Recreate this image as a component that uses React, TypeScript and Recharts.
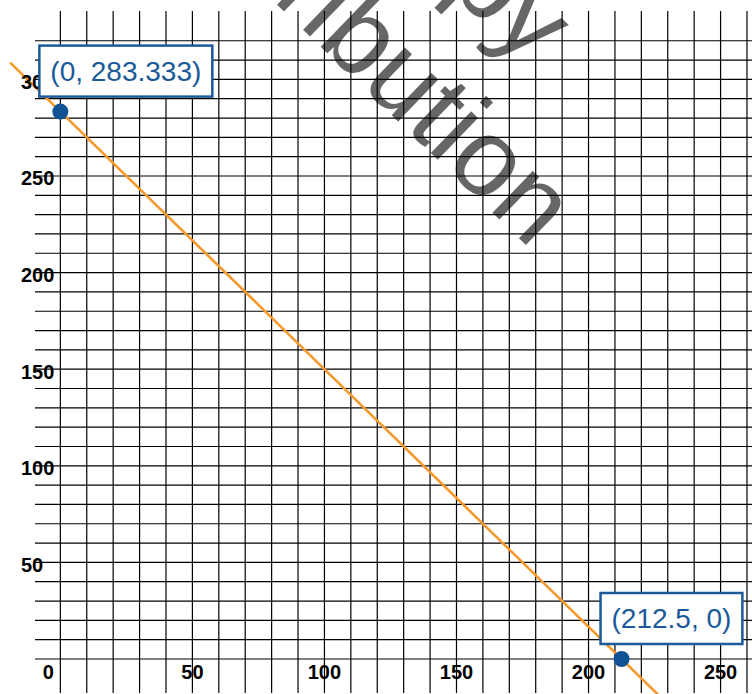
import React from "react"
import { ScatterChart, Scatter, CartesianGrid, XAxis, YAxis, ReferenceLine } from "recharts"

// axis labels (every 50) and the graph-paper lines (every 10)
const xTicks = [0, 50, 100, 150, 200, 250]
const yTicks = [50, 100, 150, 200, 250, 300]
const gridX = [0, 10, 20, 30, 40, 50, 60, 70, 80, 90, 100, 110, 120, 130, 140, 150, 160, 170, 180, 190, 200, 210, 220, 230, 240, 250, 260]
const gridY = [0, 10, 20, 30, 40, 50, 60, 70, 80, 90, 100, 110, 120, 130, 140, 150, 160, 170, 180, 190, 200, 210, 220, 230, 240, 250, 260, 270, 280, 290, 300, 310, 320]

// the two intercepts that are marked
const intercepts = [
  { x: 0, y: 283.333 },
  { x: 212.5, y: 0 },
]

// where the orange line runs off the paper
const lineEnds = [
  { x: -19, y: 308.667 },
  { x: 227, y: -19.333 },
]

const watermark = ["copy", "distribution"]

const W = 752
const H = 694
const X_DOMAIN = [-9.6, 261.9]
const Y_DOMAIN = [-17.6, 335.4]
const BLUE = "#1b5a98"
const DOT = "#0f5394"
const ORANGE = "#f7982a"
const FONT = "'Liberation Sans', Arial, Helvetica, sans-serif"

// rough Arial advance widths, used to size the label boxes
const charW: Record<string, number> = { "(": 0.333, ")": 0.333, ",": 0.278, " ": 0.278, ".": 0.278 }
const textWidth = (s: string, size: number) =>
  s.split("").reduce((w, c) => w + (charW[c] ?? 0.556), 0) * size

const XTick = ({ x, y, payload }: any) => (
  <text
    x={x + (payload.value === 0 ? -12 : 0)}
    y={y - 14.5}
    textAnchor="middle"
    fontFamily={FONT}
    fontWeight="bold"
    fontSize={20}
    fill="#000"
  >
    {payload.value}
  </text>
)

const YTick = ({ x, y, payload }: any) => (
  <text x={x - 14} y={y + 9.5} textAnchor="start" fontFamily={FONT} fontWeight="bold" fontSize={20} fill="#000">
    {payload.value}
  </text>
)

const PointWithLabel = ({ cx, cy, payload }: any) => {
  const label = `(${payload.x}, ${payload.y})`
  const w = textWidth(label, 28) + 22
  const left = cx - 21
  const top = cy - 66
  return (
    <g>
      <circle cx={cx} cy={cy} r={8} fill={DOT} />
      <rect x={left} y={top} width={w} height={51} fill="#fff" stroke={BLUE} strokeWidth={2.5} />
      <text x={left + w / 2} y={top + 35} textAnchor="middle" fontFamily={FONT} fontSize={28} fill={BLUE}>
        {label}
      </text>
    </g>
  )
}

const layer = { position: "absolute" as const, left: 0, top: 0 }

export default function App() {
  return (
    <div style={{ position: "absolute", left: 0, top: 0, width: W, height: H, background: "#fff" }}>
      {/* paper, axes and the line */}
      <div style={layer}>
        <ScatterChart width={W} height={H} margin={{ top: 11, right: 0, bottom: 0, left: 0 }}>
          <CartesianGrid stroke="#000" strokeWidth={1.2} verticalValues={gridX} horizontalValues={gridY} />
          <XAxis
            type="number"
            dataKey="x"
            domain={X_DOMAIN}
            allowDataOverflow
            ticks={xTicks}
            interval={0}
            height={1}
            axisLine={false}
            tickLine={false}
            tickSize={0}
            tickMargin={0}
            tick={<XTick />}
          />
          <YAxis
            type="number"
            dataKey="y"
            domain={Y_DOMAIN}
            allowDataOverflow
            ticks={yTicks}
            interval={0}
            width={35}
            axisLine={false}
            tickLine={false}
            tickSize={0}
            tickMargin={0}
            tick={<YTick />}
          />
          <ReferenceLine segment={lineEnds} stroke={ORANGE} strokeWidth={2.6} ifOverflow="visible" />
        </ScatterChart>
      </div>

      {/* intercept markers sit above the tick labels (the box hides part of "300") */}
      <div style={{ ...layer, pointerEvents: "none" }}>
        <ScatterChart width={W} height={H} margin={{ top: 11, right: 0, bottom: 1, left: 35 }}>
          <XAxis type="number" dataKey="x" domain={X_DOMAIN} allowDataOverflow hide />
          <YAxis type="number" dataKey="y" domain={Y_DOMAIN} allowDataOverflow hide />
          <Scatter data={intercepts} shape={<PointWithLabel />} isAnimationActive={false} />
        </ScatterChart>
      </div>

      {/* watermark across the top of the page */}
      <svg width={W} height={H} style={{ ...layer, pointerEvents: "none" }}>
        <g transform="translate(531 250) rotate(44)" fill="#000" fillOpacity={0.6} fontFamily={FONT} fontSize={110}>
          <text x={-129} y={-130} textAnchor="end">
            {watermark[0]}
          </text>
          <text x={0} y={0} textAnchor="end">
            {watermark[1]}
          </text>
        </g>
      </svg>
    </div>
  )
}
